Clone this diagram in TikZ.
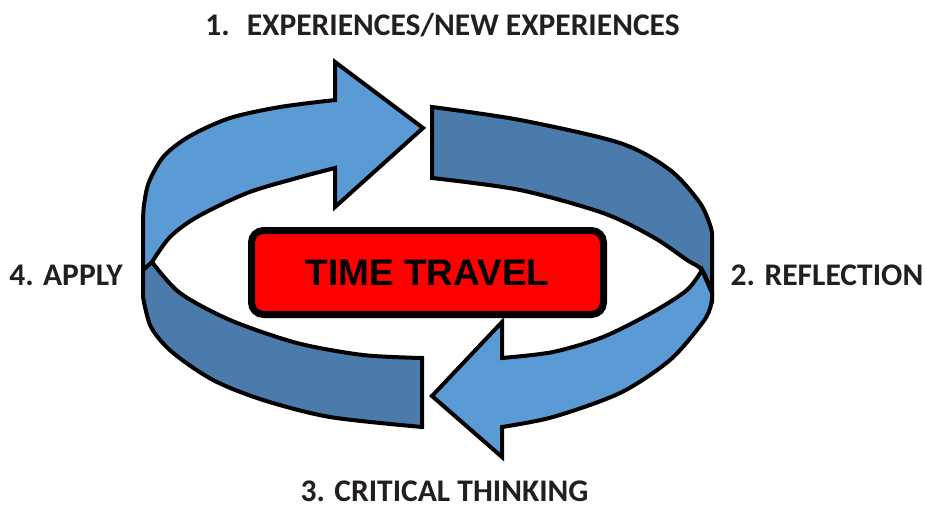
\documentclass[tikz,border=0pt]{standalone}
\usepackage{fontspec}
\newfontfamily\labfont{Carlito}
\newfontfamily\boxfont{Liberation Sans}
\definecolor{lightband}{RGB}{91,155,213}
\definecolor{darkband}{RGB}{74,123,170}
\definecolor{labtext}{RGB}{35,31,32}
\begin{document}
\begin{tikzpicture}[x=1pt,y=-1pt,
  band/.style={draw=black,line width=4pt,line join=miter},
  lbl/.style={font={\labfont\bfseries\fontsize{31.5}{38}\selectfont},text=labtext,anchor=base,inner sep=0pt}]
\useasboundingbox (0,0) rectangle (925,509);
% bottom-left dark band
\path[band,fill=darkband] (422,358) -- (422,427)
  -- plot[smooth] coordinates {(422,427) (330,417) (263,400) (213,380) (172,352) (151,327) (143,297)}
  -- (143,255) -- (152,262)
  -- plot[smooth] coordinates {(152,262) (180,293) (230,320) (297,343) (363,355) (422,358)} -- cycle;
% top-left light arrow
\path[band,fill=lightband] (423,128) -- (335,62) -- (335,100)
  -- plot[smooth] coordinates {(335,100) (280,107) (230,118) (190,136) (164,156) (149,182) (144,205) (143,222)}
  -- (143,270) -- (152,262)
  -- plot[smooth] coordinates {(152,262) (170,237) (197,217) (247,193) (297,178) (335,168)}
  -- (335,207) -- cycle;
% top-right dark band
\path[band,fill=darkband] (432,178) -- (432,107)
  -- plot[smooth] coordinates {(432,107) (520,120) (620,143) (670,170) (700,203) (711,228) (712,240)}
  -- (712,293)
  -- plot[smooth] coordinates {(712,293) (702,270) (687,260) (653,237) (603,213) (520,190) (432,178)} -- cycle;
% bottom-right light arrow
\path[band,fill=lightband] (432,396) -- (502,322) -- (502,358)
  -- plot[smooth] coordinates {(502,358) (553,352) (603,337) (653,312) (687,290) (702,270)}
  -- (712,293)
  -- plot[smooth] coordinates {(712,293) (711,305) (703,322) (670,360) (620,393) (553,417) (502,427)}
  -- (502,457) -- cycle;
% centre box
\node[draw=black,line width=7pt,fill=red,rounded corners=12pt,minimum width=352pt,minimum height=84pt,inner sep=0pt,
  font={\boxfont\bfseries\fontsize{37}{44}\selectfont}] (box) at (427.5,272.5) {TIME TRAVEL};
% labels
\node[lbl] (l1) at (442.5,35) {1.\hspace{17pt}EXPERIENCES/NEW EXPERIENCES};
\node[lbl] (l2) at (827,285) {2. REFLECTION};
\node[lbl] (l3) at (444.5,501) {3. CRITICAL THINKING};
\node[lbl] (l4) at (66,285) {4. APPLY};
\end{tikzpicture}
\end{document}
